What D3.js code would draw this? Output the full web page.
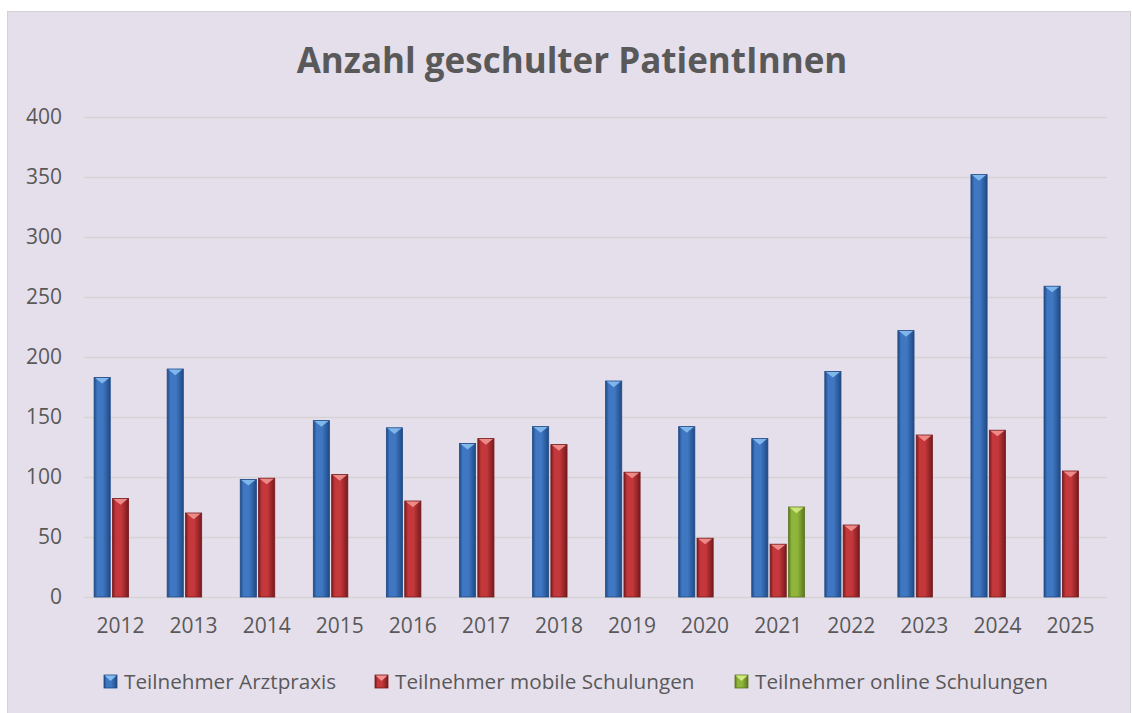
<!DOCTYPE html>
<html>
<head>
<meta charset="utf-8">
<script src="https://cdn.jsdelivr.net/npm/d3@7"></script>
<style>
  html, body { margin: 0; padding: 0; background: #ffffff; }
  svg { display: block; font-family: "Open Sans", sans-serif; }
</style>
</head>
<body>
<svg id="chart" width="1132" height="713"></svg>
<script>
const years = ["2012","2013","2014","2015","2016","2017","2018","2019","2020","2021","2022","2023","2024","2025"];
const arztpraxis = [183, 190, 98, 147, 141, 128, 142, 180, 142, 132, 188, 222, 352, 259];
const mobile = [82, 70, 99, 102, 80, 132, 127, 104, 49, 44, 60, 135, 139, 105];
const online = [null, null, null, null, null, null, null, null, null, 75, null, null, null, null];
const seriesNames = ["Teilnehmer Arztpraxis", "Teilnehmer mobile Schulungen", "Teilnehmer online Schulungen"];
const yTicks = [0, 50, 100, 150, 200, 250, 300, 350, 400];

const palette = [
  { edge: "#1f4a85", mid: "#3f77c2", hi: "#86bdf0" },
  { edge: "#761a1d", mid: "#c4373a", hi: "#f29390" },
  { edge: "#5a7620", mid: "#8fb63a", hi: "#d2ea80" }
];

const svg = d3.select("#chart");
const W = 1132, H = 713;
const margin = { left: 84, right: 25, top: 117, bottom: 116 };
const plotW = W - margin.left - margin.right;
const plotH = H - margin.top - margin.bottom;

// gradients for the bevelled bars
const defs = svg.append("defs");
palette.forEach((p, i) => {
  const g = defs.append("linearGradient").attr("id", "grad" + i).attr("x1", 0).attr("x2", 1).attr("y1", 0).attr("y2", 0);
  g.append("stop").attr("offset", "0%").attr("stop-color", p.edge);
  g.append("stop").attr("offset", "20%").attr("stop-color", p.mid);
  g.append("stop").attr("offset", "55%").attr("stop-color", p.mid);
  g.append("stop").attr("offset", "100%").attr("stop-color", p.edge);
});

svg.append("rect").attr("x", 7.5).attr("y", 11.5).attr("width", W - 9).attr("height", H - 10)
  .attr("fill", "#e5dfec").attr("stroke", "#d4d2d6");

svg.append("text").attr("x", W / 2 + 6).attr("y", 73).attr("text-anchor", "middle")
  .attr("font-size", 35).attr("font-weight", "bold").attr("fill", "#595959")
  .text("Anzahl geschulter PatientInnen");

const x = d3.scaleBand().domain(years).range([margin.left, margin.left + plotW]);
const y = d3.scaleLinear().domain([0, 400]).range([margin.top + plotH, margin.top]);

const g = svg.append("g");

// gridlines
g.selectAll("line.grid").data(yTicks).join("line")
  .attr("x1", margin.left).attr("x2", margin.left + plotW)
  .attr("y1", d => y(d) + 0.5).attr("y2", d => y(d) + 0.5)
  .attr("stroke", "#d5d3d3").attr("stroke-width", 1.4);

// y axis labels
const yAxis = d3.axisLeft(y).tickValues(yTicks).tickSize(0).tickPadding(22);
svg.append("g").attr("transform", `translate(${margin.left},0)`).call(yAxis)
  .call(s => s.select(".domain").remove())
  .call(s => s.selectAll("text").attr("font-size", 21).attr("fill", "#595959").attr("font-family", "Open Sans"));

// x axis labels
const xAxis = d3.axisBottom(x).tickSize(0).tickPadding(21);
svg.append("g").attr("transform", `translate(0,${margin.top + plotH})`).call(xAxis)
  .call(s => s.select(".domain").remove())
  .call(s => s.selectAll("text").attr("font-size", 21).attr("fill", "#595959").attr("font-family", "Open Sans"));

// bars
const series = [arztpraxis, mobile, online];
const sub = d3.scaleBand().domain([0, 1, 2]).range([0, x.bandwidth()]).paddingInner(0.12).paddingOuter(0.55);
const bw = sub.bandwidth();

series.forEach((vals, si) => {
  const data = years.map((yr, i) => ({ yr, v: vals[i] })).filter(d => d.v != null);
  const bar = g.append("g").selectAll("g").data(data).join("g")
    .attr("transform", d => `translate(${x(d.yr) + sub(si)},${y(d.v)})`);
  bar.append("rect")
    .attr("width", bw).attr("height", d => y(0) - y(d.v))
    .attr("fill", `url(#grad${si})`)
    .attr("stroke", palette[si].edge).attr("stroke-width", 0.8);
  bar.append("path")
    .attr("d", `M1,0.5 L${bw - 1},0.5 L${bw / 2},${Math.min(7, bw * 0.38)} Z`)
    .attr("fill", palette[si].hi).attr("opacity", 0.9);
});

// legend
const legendItems = [
  { name: seriesNames[0], x: 104 },
  { name: seriesNames[1], x: 375 },
  { name: seriesNames[2], x: 735 }
];
const leg = svg.append("g").selectAll("g").data(legendItems).join("g")
  .attr("transform", d => `translate(${d.x},675)`);
leg.append("rect").attr("width", 13).attr("height", 13)
  .attr("fill", (d, i) => `url(#grad${i})`).attr("stroke", (d, i) => palette[i].edge).attr("stroke-width", 0.8);
leg.append("path").attr("d", "M0.5,0.5 L12.5,0.5 L6.5,6 Z").attr("fill", (d, i) => palette[i].hi);
leg.append("text").attr("x", 20).attr("y", 13.5).attr("font-size", 20.7).attr("fill", "#595959")
  .text(d => d.name);
</script>
</body>
</html>
